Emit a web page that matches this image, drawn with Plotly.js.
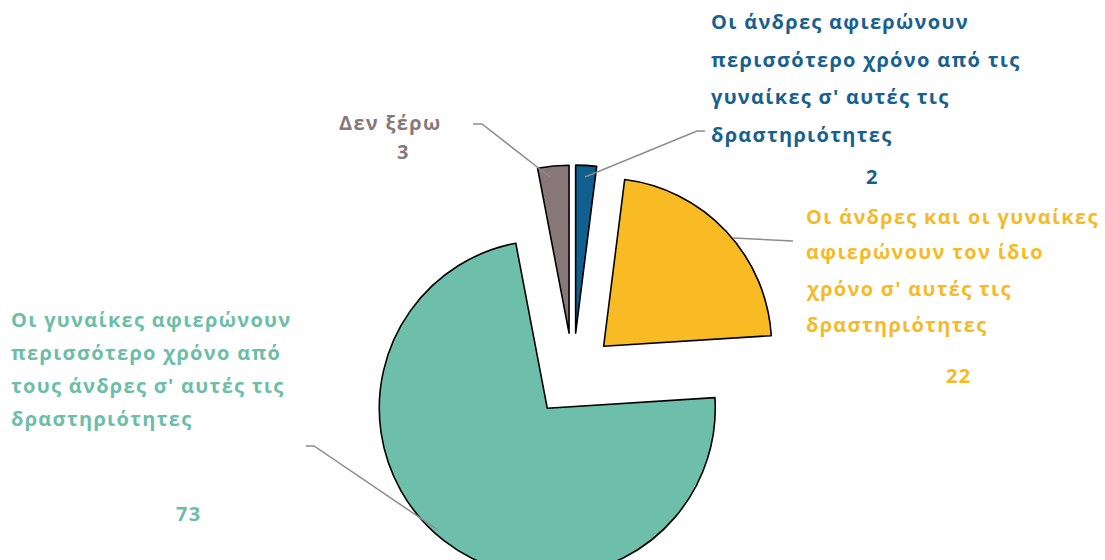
<!DOCTYPE html>
<html>
<head>
<meta charset="utf-8">
<script src="https://cdn.plot.ly/plotly-3.0.1.min.js"></script>
<style>
html, body { margin: 0; padding: 0; overflow: hidden; background: #fff; }
#chart { width: 1105px; height: 600px; }
#chart .annotation-text { letter-spacing: 1.3px; }
</style>
</head>
<body>
<div id="chart"></div>
<script>
// ---- data ----
const categories = [
  "Οι άνδρες αφιερώνουν περισσότερο χρόνο από τις γυναίκες σ' αυτές τις δραστηριότητες",
  "Οι άνδρες και οι γυναίκες αφιερώνουν τον ίδιο χρόνο σ' αυτές τις δραστηριότητες",
  "Οι γυναίκες αφιερώνουν περισσότερο χρόνο από τους άνδρες σ' αυτές τις δραστηριότητες",
  "Δεν ξέρω"
];
const values = [2, 22, 73, 3];
const labelLines = [
  ["Οι άνδρες αφιερώνουν", "περισσότερο χρόνο από τις", "γυναίκες σ' αυτές τις", "δραστηριότητες"],
  ["Οι άνδρες και οι γυναίκες", "αφιερώνουν τον ίδιο", "χρόνο σ' αυτές τις", "δραστηριότητες"],
  ["Οι γυναίκες αφιερώνουν", "περισσότερο χρόνο από", "τους άνδρες σ' αυτές τις", "δραστηριότητες"],
  ["Δεν ξέρω"]
];
const sliceColors = ["#115f8e", "#f8bb23", "#6dbfa9", "#887879"];
const textColors = ["#17618f", "#f7ba27", "#6cbea8", "#887879"];

// ---- layout helpers (pixel -> paper) ----
const W = 1105, H = 600;
const px = x => x / W;
const py = y => 1 - y / H;

// label placement (pixels): left x, first line y, line step; value position
const labelPos = [
  {x: 709, y: 22, step: 37.5, vx: 864, vy: 177},
  {x: 804, y: 216, step: 36, vx: 944, vy: 375},
  {x: 9, y: 319, step: 33, vx: 174, vy: 513},
  {x: 337, y: 122, step: 30, vx: 395, vy: 151}
];
const leaders = [
  [[585, 177], [697, 131], [705, 131]],
  [[733, 238], [793, 241]],
  [[438, 530], [314, 446], [306, 446]],
  [[550, 177], [482, 124], [473, 124]]
];

const annotations = [];
labelLines.forEach((lines, i) => {
  const p = labelPos[i];
  lines.forEach((t, j) => {
    annotations.push({
      xref: "paper", yref: "paper",
      x: px(p.x), y: py(p.y + j * p.step),
      xanchor: "left", yanchor: "middle", align: "left",
      text: t, showarrow: false,
      font: {family: "Open Sans", size: 20, color: textColors[i], weight: 700}
    });
  });
  annotations.push({
    xref: "paper", yref: "paper",
    x: px(p.vx), y: py(p.vy),
    xanchor: "left", yanchor: "middle", align: "left",
    text: String(values[i]), showarrow: false,
    font: {family: "Open Sans", size: 20, color: textColors[i], weight: 700}
  });
});

const shapes = leaders.map(pts => ({
  type: "path", xref: "paper", yref: "paper",
  path: pts.map((p, k) => (k ? "L" : "M") + px(p[0]) + "," + py(p[1])).join(" "),
  line: {color: "#8c8c8c", width: 1.5}
}));

// pie geometry: center (573,375), radius ~168, pull 0.25
const cx = 573, cy = 375, D = 420;
const trace = {
  type: "pie",
  labels: categories,
  values: values,
  sort: false,
  direction: "clockwise",
  rotation: 0,
  pull: values.map(() => 0.25),
  textinfo: "none",
  hoverinfo: "label+value",
  marker: {colors: sliceColors, line: {color: "#000000", width: 1.6}},
  domain: {x: [px(cx - 230), px(cx + 230)], y: [py(cy + D / 2), py(cy - D / 2)]},
  showlegend: false
};

Plotly.newPlot("chart", [trace], {
  width: W, height: H,
  margin: {l: 0, r: 0, t: 0, b: 0},
  paper_bgcolor: "#ffffff",
  plot_bgcolor: "#ffffff",
  showlegend: false,
  annotations: annotations,
  shapes: shapes
}, {displayModeBar: false, staticPlot: true});
</script>
</body>
</html>
